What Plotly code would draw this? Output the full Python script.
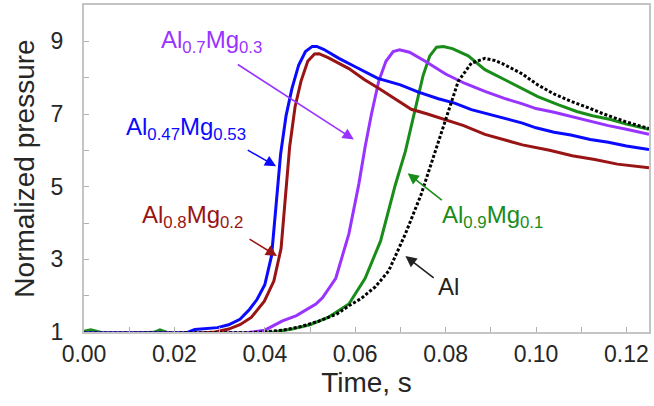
import plotly.graph_objects as go

# Normalized pressure traces vs time for each fuel composition
t_al047 = [0.000, 0.004, 0.010, 0.016, 0.0225, 0.0245, 0.027, 0.0295, 0.032, 0.0345, 0.0366, 0.0383,
           0.0400, 0.0415, 0.0425, 0.0435, 0.0447, 0.0460, 0.0475, 0.0490, 0.0505, 0.0515, 0.0530,
           0.0564, 0.060, 0.065, 0.070, 0.074, 0.0784, 0.082, 0.0857, 0.090, 0.093, 0.097, 0.100,
           0.104, 0.1077, 0.112, 0.116, 0.120, 0.125]
p_al047 = [0.97, 0.97, 0.96, 0.96, 0.97, 1.07, 1.10, 1.12, 1.20, 1.35, 1.62, 1.90,
           2.30, 3.10, 4.50, 5.90, 6.95, 7.70, 8.35, 8.72, 8.86, 8.86, 8.78,
           8.53, 8.30, 7.98, 7.80, 7.60, 7.42, 7.30, 7.12, 6.98, 6.88, 6.75, 6.62,
           6.50, 6.42, 6.30, 6.22, 6.12, 6.02]

t_al08 = [0.000, 0.010, 0.020, 0.026, 0.029, 0.032, 0.0345, 0.037, 0.0399, 0.042, 0.0436, 0.0445,
          0.0455, 0.0467, 0.0480, 0.0495, 0.0510, 0.0520, 0.054, 0.0586, 0.062, 0.065, 0.069,
          0.0724, 0.076, 0.080, 0.084, 0.0887, 0.093, 0.097, 0.103, 0.108, 0.113, 0.118, 0.125]
p_al08 = [0.96, 0.96, 0.96, 0.97, 1.00, 1.08, 1.20, 1.40, 1.85, 2.40, 3.30, 4.70,
          6.10, 7.20, 7.90, 8.45, 8.65, 8.66, 8.55, 8.25, 7.95, 7.72, 7.40,
          7.13, 7.00, 6.85, 6.68, 6.44, 6.30, 6.15, 6.00, 5.85, 5.75, 5.62, 5.52]

t_al07 = [0.000, 0.010, 0.020, 0.030, 0.036, 0.0400, 0.0438, 0.047, 0.0513, 0.0528, 0.0557, 0.0586,
          0.0608, 0.0622, 0.0636, 0.0652, 0.0668, 0.0684, 0.0698, 0.072, 0.0755, 0.080, 0.0843,
          0.0887, 0.093, 0.097, 0.100, 0.104, 0.1077, 0.112, 0.116, 0.120, 0.125]
p_al07 = [0.97, 0.97, 0.97, 0.97, 0.98, 1.05, 1.30, 1.45, 1.77, 1.95, 2.48, 3.70,
          5.07, 6.10, 7.00, 7.90, 8.45, 8.72, 8.77, 8.70, 8.45, 8.10, 7.84,
          7.62, 7.43, 7.28, 7.15, 7.05, 6.93, 6.80, 6.68, 6.58, 6.44]

t_al09 = [0.000, 0.0015, 0.004, 0.010, 0.0155, 0.0168, 0.0185, 0.025, 0.035, 0.042, 0.046, 0.050,
          0.054, 0.0586, 0.0622, 0.0656, 0.0689, 0.0711, 0.0733, 0.0750, 0.0765, 0.0780, 0.0795,
          0.0815, 0.0850, 0.0887, 0.093, 0.0965, 0.1004, 0.105, 0.109, 0.1125, 0.1165, 0.120, 0.125]
p_al09 = [1.02, 1.06, 0.98, 0.97, 0.99, 1.06, 0.98, 0.97, 0.97, 1.00, 1.08, 1.20,
          1.40, 1.77, 2.48, 3.50, 5.06, 5.97, 7.10, 8.05, 8.60, 8.84, 8.86,
          8.80, 8.60, 8.22, 7.95, 7.72, 7.48, 7.25, 7.07, 6.95, 6.85, 6.72, 6.58]

t_al = [0.000, 0.010, 0.020, 0.024, 0.030, 0.036, 0.040, 0.044, 0.048, 0.052, 0.056, 0.0586,
        0.0614, 0.0645, 0.0674, 0.0711, 0.0746, 0.0777, 0.080, 0.0828, 0.0857, 0.0887, 0.091,
        0.093, 0.097, 0.1004, 0.104, 0.1077, 0.111, 0.115, 0.120, 0.125]
p_al = [0.97, 0.97, 0.97, 0.97, 0.97, 0.98, 1.00, 1.05, 1.15, 1.30, 1.50, 1.72,
        1.93, 2.25, 2.68, 3.70, 4.79, 5.97, 6.88, 7.90, 8.40, 8.53, 8.47,
        8.36, 8.10, 7.80, 7.55, 7.35, 7.20, 7.00, 6.78, 6.60]

BLUE = "#0a0aff"
RED = "#991414"
PURPLE = "#9933ff"
GREEN = "#1a8c1a"
BLACK = "#000000"
FONT = "Liberation Sans, Arial, sans-serif"

fig = go.Figure()
for t, p, color, dash in [
    (t_al09, p_al09, GREEN, "solid"),
    (t_al07, p_al07, PURPLE, "solid"),
    (t_al08, p_al08, RED, "solid"),
    (t_al047, p_al047, BLUE, "solid"),
    (t_al, p_al, BLACK, "3px,2px"),
]:
    fig.add_trace(go.Scatter(x=t, y=p, mode="lines",
                             line=dict(color=color, width=3, dash=dash),
                             showlegend=False, hoverinfo="skip"))

# Composition labels
labels = [
    ("Al<sub>0.7</sub>Mg<sub>0.3</sub>", 0.0282, 9.0, PURPLE),
    ("Al<sub>0.47</sub>Mg<sub>0.53</sub>", 0.0226, 6.6, BLUE),
    ("Al<sub>0.8</sub>Mg<sub>0.2</sub>", 0.0241, 4.19, RED),
    ("Al<sub>0.9</sub>Mg<sub>0.1</sub>", 0.0903, 4.19, GREEN),
    ("Al", 0.0807, 2.26, "#222222"),
]
for text, x, y, color in labels:
    fig.add_annotation(x=x, y=y, xref="x", yref="y", text=text, showarrow=False,
                       font=dict(family=FONT, size=24, color=color),
                       xanchor="center", yanchor="middle")

# Pointer arrows: (tail x, tail y, head x, head y)
arrows = [
    (0.0337, 8.39, 0.0597, 6.30, PURPLE),
    (0.0359, 6.03, 0.0425, 5.56, BLUE),
    (0.0363, 3.58, 0.0427, 3.09, RED),
    (0.0795, 4.60, 0.0716, 5.37, GREEN),
    (0.0777, 2.46, 0.0711, 3.09, "#222222"),
]
for ax, ay, hx, hy, color in arrows:
    fig.add_annotation(x=hx, y=hy, ax=ax, ay=ay, xref="x", yref="y", axref="x", ayref="y",
                       text="", showarrow=True, arrowhead=2, arrowsize=1.4, arrowwidth=1.6,
                       arrowcolor=color, standoff=0, startstandoff=0)

axis_common = dict(showline=True, linecolor="#c4c4c4", linewidth=2, mirror=True,
                   ticks="inside", ticklen=5, tickwidth=1.2, tickcolor="#b0b0b0",
                   showgrid=False, zeroline=False,
                   tickfont=dict(family=FONT, size=23, color="#262626"))
minor_common = dict(ticks="inside", ticklen=5, tickwidth=1.2, tickcolor="#b0b0b0", showgrid=False)

fig.update_xaxes(range=[0, 0.125], tick0=0, dtick=0.02, tickformat=".2f",
                 minor=dict(dtick=0.01, **minor_common),
                 title=dict(text="Time, s", font=dict(family=FONT, size=28, color="#262626"),
                            standoff=6),
                 **axis_common)
fig.update_yaxes(range=[1, 10], tick0=1, dtick=2,
                 minor=dict(dtick=1, tick0=1, **minor_common),
                 ticklabelstandoff=14,
                 title=dict(text="Normalized pressure", font=dict(family=FONT, size=28, color="#262626"),
                            standoff=8),
                 **axis_common)

fig.update_layout(width=654, height=406, margin=dict(l=84, r=3, t=5, b=74),
                  paper_bgcolor="white", plot_bgcolor="white")

fig.write_html("out.html")
